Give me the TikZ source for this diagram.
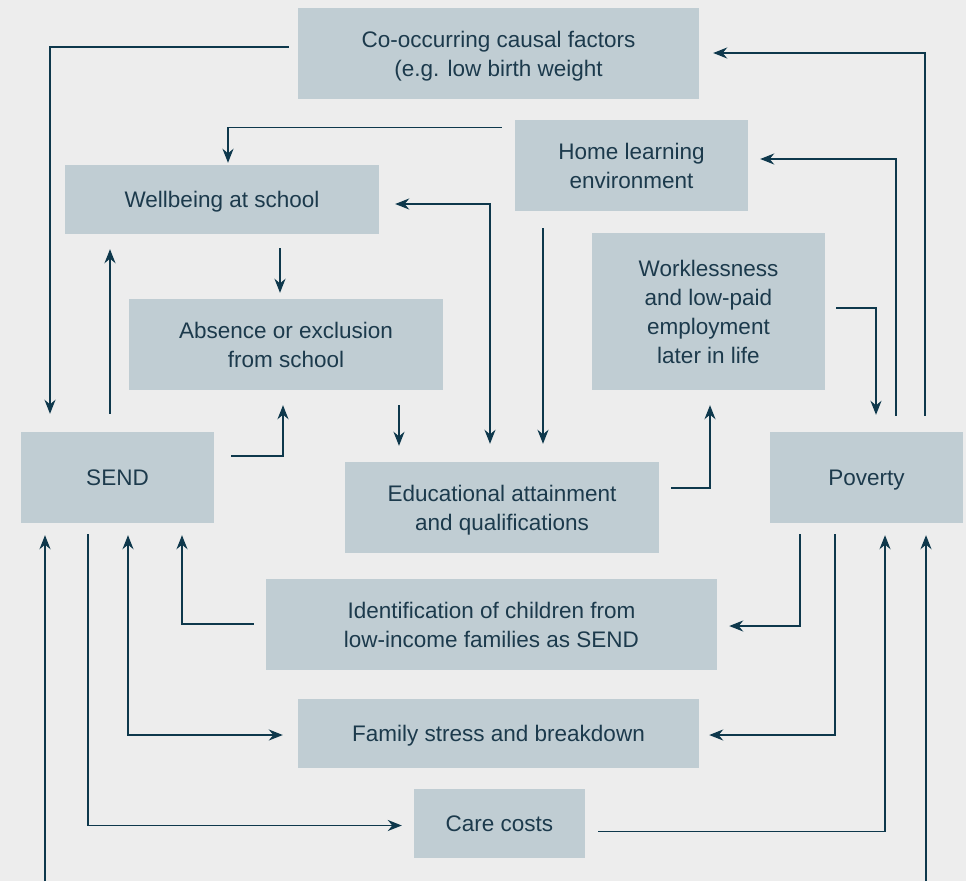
\documentclass[tikz,border=0pt]{standalone}
\usepackage{fontspec}
\setmainfont{Liberation Sans}
\usetikzlibrary{arrows.meta, calc}

\definecolor{bgcol}{RGB}{237,237,237}
\definecolor{boxcol}{RGB}{192,205,211}
\definecolor{txtcol}{RGB}{28,58,76}
\definecolor{linecol}{RGB}{14,56,76}

\begin{document}
\begin{tikzpicture}[
  x=1pt, y=-1pt,
  box/.style={fill=boxcol, text=txtcol, align=center, inner sep=0pt,
              text depth=0pt, font=\fontsize{22.5}{29}\selectfont},
  flow/.style={-{Stealth[length=14pt, width=11pt, inset=4.5pt]}, draw=linecol, line width=1.7pt},
  both/.style={flow, {Stealth[length=14pt, width=11pt, inset=4.5pt]}-{Stealth[length=14pt, width=11pt, inset=4.5pt]}}
]
\fill[bgcol] (0,0) rectangle (966,881);
\useasboundingbox (0,0) rectangle (966,881);

% boxes
\node[box, minimum width=401pt, minimum height=91pt] (cooc) at (498.5,53.5) {Co-occurring causal factors\\(e.g. low birth weight};
\node[box, minimum width=233pt, minimum height=91pt] (home) at (631.5,165.5) {Home learning\\environment};
\node[box, minimum width=314pt, minimum height=69pt] (well) at (222,199.5) {Wellbeing at school};
\node[box, minimum width=314pt, minimum height=91pt] (abs) at (286,344.5) {Absence or exclusion\\from school};
\node[box, minimum width=233pt, minimum height=157pt] (work) at (708.5,311.5) {Worklessness\\and low-paid\\employment\\later in life};
\node[box, minimum width=193pt, minimum height=91pt] (send) at (117.5,477.5) {SEND};
\node[box, minimum width=193pt, minimum height=91pt] (pov) at (866.5,477.5) {Poverty};
\node[box, minimum width=314pt, minimum height=91pt] (edu) at (502,507.5) {Educational attainment\\and qualifications};
\node[box, minimum width=451pt, minimum height=91pt] (ident) at (491.5,624.5) {Identification of children from\\low-income families as SEND};
\node[box, minimum width=401pt, minimum height=69pt] (family) at (498.5,733.5) {Family stress and breakdown};
\node[box, minimum width=171pt, minimum height=69pt] (care) at (499.5,823.5) {Care costs};

\coordinate (sendin) at (45,881);
\coordinate (povin) at (926,881);

% top part
\draw[flow] ($(cooc.west)+(-9,-6.5)$) -| ($(send.north)+(-67.5,-18)$);
\draw[flow] ($(home.west)+(-13,-38)$) -| ($(well.north)+(6,-2)$);
\draw[both] ($(well.east)+(16,4.5)$) -| ($(edu.north)+(-12,-18)$);
\draw[flow] ($(home.south)+(-88.5,17)$) -- ($(edu.north)+(41,-18)$);
\draw[flow] ($(well.south)+(58,14)$) -- ($(abs.north)+(-6,-6)$);
\draw[flow] ($(send.north)+(-7.5,-18)$) -- ($(well.south)+(-112,15)$);
\draw[flow] ($(send.east)+(17,-21.5)$) -| ($(abs.south)+(-3,15)$);
\draw[flow] ($(abs.south)+(113,15)$) -- ($(edu.north)+(-103,-16)$);
\draw[flow] ($(edu.east)+(12,-19.5)$) -| ($(work.south)+(1.5,15)$);
\draw[flow] ($(work.east)+(11,-3.5)$) -| ($(pov.north)+(9.5,-17)$);
\draw[flow] ($(pov.north)+(29.5,-16)$) |- ($(home.east)+(12,-6.5)$);
\draw[flow] ($(pov.north)+(58.5,-16)$) |- ($(cooc.east)+(14,-0.5)$);

% bottom part
\draw[flow] ($(pov.south)+(-66.5,11)$) |- ($(ident.east)+(12,1.5)$);
\draw[flow] ($(pov.south)+(-31.5,11)$) |- ($(family.east)+(10,1.5)$);
\draw[flow] ($(care.east)+(13,8)$) -| ($(pov.south)+(18.5,12)$);
\draw[flow] (povin) -- ($(pov.south)+(59.5,12)$);
\draw[flow] (sendin) -- ($(send.south)+(-72.5,12)$);
\draw[flow] ($(ident.west)+(-12,-0.5)$) -| ($(send.south)+(64.5,12)$);
\draw[both] ($(send.south)+(10.5,12)$) |- ($(family.west)+(-15,1.5)$);
\draw[flow] ($(send.south)+(-29.5,11)$) |- ($(care.west)+(-12,2)$);
\end{tikzpicture}
\end{document}
